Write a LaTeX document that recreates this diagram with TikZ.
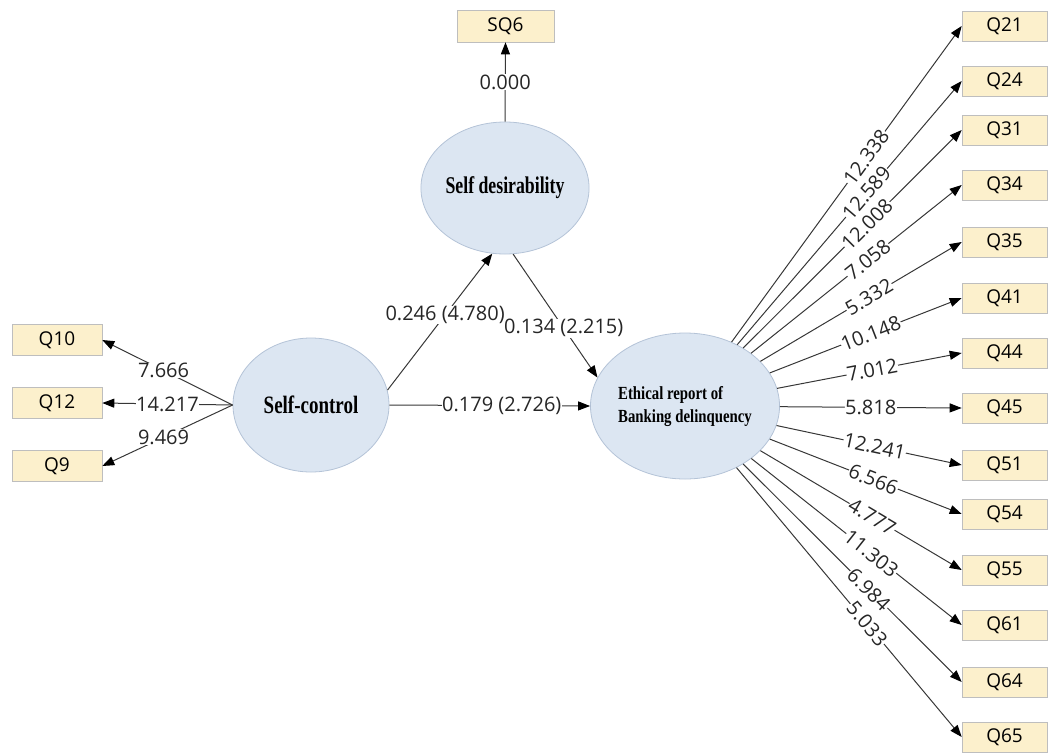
\documentclass[tikz,border=0pt]{standalone}
\usepackage{fontspec}
\usepackage{graphicx}
\setmainfont{Open Sans}
\newfontfamily\tnr{Liberation Serif}
\usetikzlibrary{shapes.geometric,arrows.meta}
\definecolor{ellfill}{RGB}{220,230,242}
\definecolor{ellborder}{RGB}{180,195,215}
\definecolor{boxfill}{RGB}{252,240,204}
\definecolor{boxborder}{RGB}{190,190,190}
\definecolor{linec}{RGB}{55,55,55}
\tikzset{
  latent/.style={ellipse, draw=ellborder, fill=ellfill, line width=0.8pt, inner sep=0pt},
  ind/.style={rectangle, draw=boxborder, fill=boxfill, line width=0.6pt, minimum width=85pt, minimum height=30pt, inner sep=0pt, font=\fontsize{19}{23}\selectfont},
  conn/.style={draw=linec, line width=1pt, -{Triangle[length=12pt,width=9pt,color=black]}},
  lbl/.style={fill=white, inner sep=0.5pt, font=\fontsize{20}{24}\selectfont, text=black!85}
}
\begin{document}
\begin{tikzpicture}[x=1pt,y=-1pt]
\useasboundingbox (0,0) rectangle (1049,753);
% latent variables
\node[latent, minimum width=156pt, minimum height=134pt] (sc) at (311,405)
  {\scalebox{0.76}[1]{\tnr\bfseries\fontsize{25}{28}\selectfont Self-control}};
\node[latent, minimum width=156pt, minimum height=132pt] (sd) at (505,188)
  {\scalebox{0.74}[1]{\tnr\bfseries\fontsize{24}{28}\selectfont Self desirability}};
\node[latent, minimum width=160pt, minimum height=146pt] (eth) at (685,406)
  {\scalebox{0.8}[1]{\tnr\bfseries\fontsize{18.5}{23}\selectfont\begin{tabular}{@{}l@{}}Ethical report of\\Banking delinquency\end{tabular}}};
% SQ6
\node[ind, minimum width=97pt, minimum height=32pt] (sq6) at (505.5,26) {SQ6};
\draw[conn] (sd.north) -- (sq6.south) node[lbl, pos=0.5] {0.000};
% left indicators
\node[ind, minimum width=90pt, minimum height=31pt] (q10) at (57,340) {Q10};
\node[ind, minimum width=90pt, minimum height=31pt] (q12) at (57,403) {Q12};
\node[ind, minimum width=90pt, minimum height=31pt] (q9) at (57,466) {Q9};
\draw[conn] (sc.west) -- (q10.east) node[lbl, pos=0.53] {7.666};
\draw[conn] (sc.west) -- (q12.east) node[lbl, pos=0.5] {14.217};
\draw[conn] (sc.west) -- (q9.east) node[lbl, pos=0.53] {9.469};
% structural paths
\draw[conn] (sc.11) -- (sd.259) node[lbl, pos=0.55] {0.246 (4.780)};
\draw[conn] (sd.277) -- (eth.162) node[lbl, pos=0.6] {0.134 (2.215)};
\draw[conn] (sc.east) -- (eth.west) node[lbl, pos=0.56] {0.179 (2.726)};
% right indicators
\foreach \n/\y/\v/\p in {21/26/12.338/0.585, 24/81/12.589/0.576, 31/130/12.008/0.567, 34/185/7.058/0.555, 35/242/5.332/0.54, 41/298/10.148/0.527, 44/353/7.012/0.515, 45/408/5.818/0.5, 51/465/12.241/0.53, 54/514/6.566/0.54, 55/570/4.777/0.555, 61/625/11.303/0.57, 64/682/6.984/0.575, 65/737/5.033/0.58}{
  \node[ind] (q\n) at (1004.5,\y) {Q\n};
  \draw[conn] (eth) -- (q\n.west) node[lbl, sloped, pos=\p] {\v};
}
\end{tikzpicture}
\end{document}
